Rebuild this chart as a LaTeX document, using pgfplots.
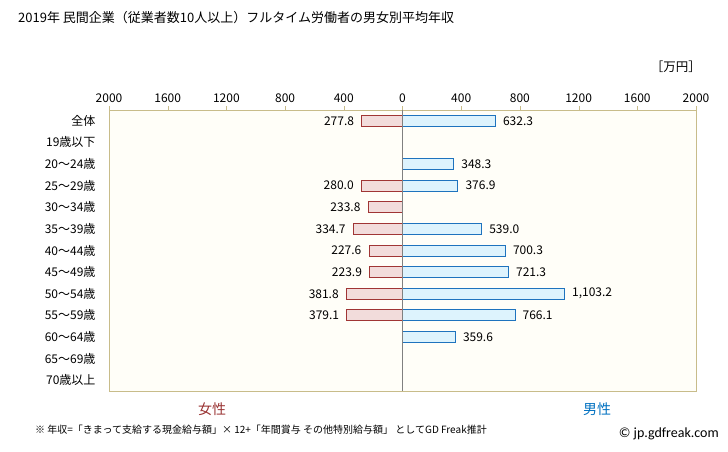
\documentclass[border=0pt]{standalone}
\usepackage{fontspec}
\setmainfont{Noto Sans CJK JP}
\newfontfamily\copyfont{Carlito}
\usepackage{pgfplots}
\pgfplotsset{compat=1.18}
\definecolor{fbar}{HTML}{F2DCDB}
\definecolor{fedge}{HTML}{A03535}
\definecolor{mbar}{HTML}{DDF3FD}
\definecolor{medge}{HTML}{1E73BE}
\definecolor{boxc}{HTML}{C8BC8A}
\definecolor{bgc}{HTML}{FFFEF8}
\definecolor{ftxt}{HTML}{993333}
\definecolor{mtxt}{HTML}{0070C0}
\begin{document}
\begin{tikzpicture}
\useasboundingbox (0,0) rectangle (728pt,-451pt);
\node[anchor=west,inner sep=0pt,font=\fontsize{13}{15}\selectfont] at (18pt,-18pt) {2019年 民間企業（従業者数10人以上）フルタイム労働者の男女別平均年収};
\node[anchor=east,inner sep=0pt,font=\fontsize{12.5}{14}\selectfont] at (701pt,-67pt) {［万円］};
\begin{axis}[at={(109pt,-110pt)}, anchor=north west, scale only axis,
  width=587pt, height=281pt,
  xmin=-2000, xmax=2000, ymin=-0.5, ymax=12.5, y dir=reverse,
  xbar, bar width=11pt, bar shift=0pt,
  xtick={-2000,-1600,-1200,-800,-400,0,400,800,1200,1600,2000},
  xticklabels={2000,1600,1200,800,400,0,400,800,1200,1600,2000},
  xtick pos=upper, xticklabel pos=upper, tick align=outside,
  major tick length=4pt,
  ytick={0,...,12},
  yticklabels={全体,19歳以下,20〜24歳,25〜29歳,30〜34歳,35〜39歳,40〜44歳,45〜49歳,50〜54歳,55〜59歳,60〜64歳,65〜69歳,70歳以上},
  ytick style={draw=none},
  yticklabel style={xshift=-6pt},
  xtick style={draw=boxc},
  axis background/.style={fill=bgc},
  axis line style={boxc, line width=0.8pt},
  tick label style={font=\fontsize{12}{13}\selectfont},
  point meta=explicit symbolic,
  nodes near coords,
  nodes near coords style={font=\fontsize{12}{13}\selectfont},
]
\addplot[draw=fedge, fill=fbar, line width=0.8pt,
  nodes near coords style={anchor=east, xshift=-4pt}]
  table[x=x, y=y, meta=l] {
x y l
-277.8 0 277.8
-280.0 3 280.0
-233.8 4 233.8
-334.7 5 334.7
-227.6 6 227.6
-223.9 7 223.9
-381.8 8 381.8
-379.1 9 379.1
};
\addplot[draw=medge, fill=mbar, line width=0.8pt,
  nodes near coords style={anchor=west, xshift=4pt}]
  table[x=x, y=y, meta=l] {
x y l
632.3 0 632.3
348.3 2 348.3
376.9 3 376.9
539.0 5 539.0
700.3 6 700.3
721.3 7 721.3
1103.2 8 1,103.2
766.1 9 766.1
359.6 10 359.6
};
\draw[gray, line width=0.8pt] (axis cs:0,-0.5) -- (axis cs:0,12.5);
\end{axis}
\node[font=\fontsize{14}{16}\selectfont, text=ftxt] at (212pt,-409pt) {女性};
\node[font=\fontsize{14}{16}\selectfont, text=mtxt] at (597pt,-409pt) {男性};
\node[anchor=west,inner sep=0pt,font=\fontsize{10}{12}\selectfont] at (35pt,-430pt) {※ 年収=「きまって支給する現金給与額」× 12+「年間賞与 その他特別給与額」 としてGD Freak推計};
\node[anchor=east,inner sep=0pt,font=\copyfont\fontsize{14}{16}\selectfont] at (719pt,-434pt) {© jp.gdfreak.com};
\end{tikzpicture}
\end{document}
